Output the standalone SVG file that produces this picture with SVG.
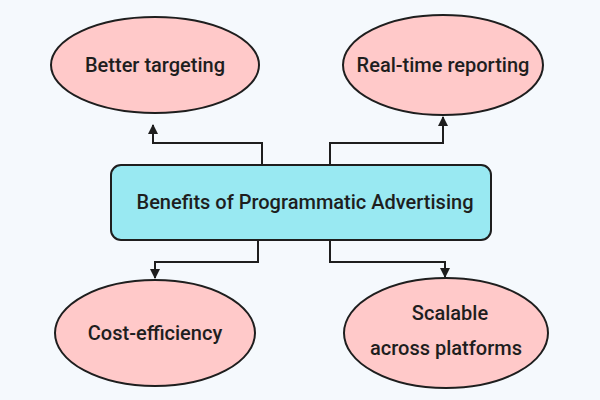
<svg xmlns="http://www.w3.org/2000/svg" width="600" height="400" viewBox="0 0 600 400">
<defs>
<marker id="ah" viewBox="0 0 10 10" refX="9" refY="5" markerWidth="5" markerHeight="5" orient="auto"><path d="M0,0 L10,5 L0,10 z" fill="#1e1e1e"/></marker>
<style>
.n{fill:#ffc9c9;stroke:#1e1e1e;stroke-width:2}
.c{fill:none;stroke:#1e1e1e;stroke-width:2;marker-end:url(#ah)}
text{font-family:Roboto,"Liberation Sans",sans-serif;font-size:20px;font-weight:500;fill:#1e1e1e;text-anchor:middle}
</style>
</defs>
<rect width="600" height="400" fill="#f5f9fd"/>
<g id="connectors">
<path class="c" d="M262,165 V143 H153 V125"/>
<path class="c" d="M330,165 V143 H443 V117"/>
<path class="c" d="M258,240 V262 H155 V278"/>
<path class="c" d="M330,240 V262 H445 V277"/>
</g>
<g id="center"><rect x="111" y="165" width="380" height="75" rx="10" fill="#99e9f2" stroke="#1e1e1e" stroke-width="2"/><text x="305" y="209">Benefits of Programmatic Advertising</text></g>
<g id="n1"><ellipse class="n" cx="155" cy="65" rx="104" ry="48"/><text x="155" y="72">Better targeting</text></g>
<g id="n2"><ellipse class="n" cx="443" cy="65" rx="100" ry="50"/><text x="443" y="72">Real-time reporting</text></g>
<g id="n3"><ellipse class="n" cx="155" cy="333" rx="100" ry="53"/><text x="155" y="340">Cost-efficiency</text></g>
<g id="n4"><ellipse class="n" cx="446" cy="333" rx="102" ry="55"/><text x="450" y="320">Scalable</text><text x="446" y="355">across platforms</text></g>
</svg>
